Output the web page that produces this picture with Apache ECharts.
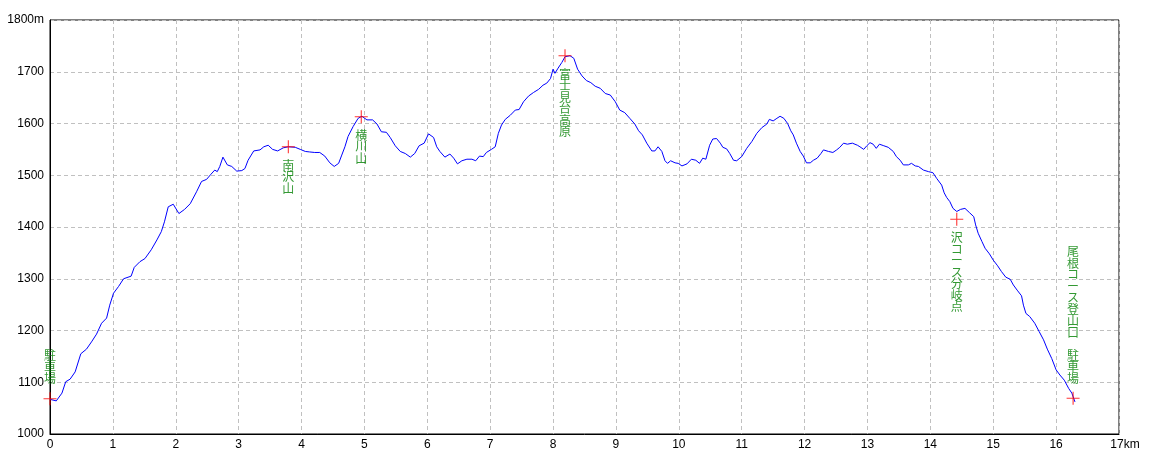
<!DOCTYPE html>
<html>
<head>
<meta charset="utf-8">
<script src="https://cdn.jsdelivr.net/npm/echarts@6/dist/echarts.min.js"></script>
<style>html,body{margin:0;padding:0;background:#fff;}#c{width:1160px;height:464px;}</style>
</head>
<body>
<div id="c"></div>
<script>
// Distance (km) along the route
const distKm = [0.00,0.10,0.19,0.25,0.32,0.40,0.49,0.58,0.66,0.74,0.82,0.90,0.95,1.01,1.09,1.17,1.29,1.34,1.43,1.51,1.61,1.70,1.77,1.82,1.88,1.96,2.05,2.14,2.23,2.33,2.41,2.49,2.56,2.62,2.66,2.70,2.75,2.82,2.89,2.97,3.05,3.10,3.15,3.24,3.34,3.40,3.47,3.54,3.62,3.71,3.79,3.90,3.98,4.06,4.13,4.21,4.29,4.37,4.45,4.52,4.59,4.64,4.69,4.74,4.82,4.90,4.96,5.04,5.13,5.20,5.27,5.35,5.41,5.49,5.57,5.65,5.73,5.80,5.87,5.95,6.02,6.10,6.15,6.20,6.28,6.36,6.42,6.48,6.55,6.63,6.71,6.77,6.83,6.89,6.94,7.02,7.08,7.13,7.18,7.24,7.32,7.40,7.46,7.53,7.61,7.69,7.77,7.84,7.90,7.96,8.00,8.03,8.08,8.14,8.19,8.27,8.33,8.39,8.46,8.53,8.60,8.67,8.75,8.83,8.91,8.99,9.06,9.14,9.22,9.30,9.36,9.42,9.49,9.57,9.62,9.67,9.73,9.78,9.82,9.87,9.94,9.99,10.05,10.13,10.20,10.27,10.33,10.38,10.43,10.49,10.54,10.60,10.66,10.70,10.76,10.81,10.87,10.92,11.00,11.08,11.16,11.24,11.32,11.40,11.44,11.50,11.56,11.61,11.67,11.73,11.78,11.82,11.87,11.93,11.98,12.03,12.09,12.14,12.20,12.26,12.30,12.38,12.45,12.51,12.56,12.62,12.68,12.76,12.84,12.88,12.94,12.99,13.04,13.09,13.14,13.19,13.26,13.33,13.41,13.46,13.52,13.57,13.65,13.70,13.76,13.81,13.89,13.97,14.04,14.10,14.18,14.22,14.26,14.31,14.36,14.42,14.48,14.55,14.62,14.69,14.72,14.76,14.82,14.87,14.94,15.00,15.07,15.13,15.20,15.27,15.32,15.38,15.45,15.48,15.52,15.58,15.66,15.73,15.80,15.86,15.93,16.00,16.06,16.13,16.20,16.25,16.30];
// Elevation (m)
const elevM = [1067,1064,1079,1101,1106,1120,1155,1164,1178,1193,1214,1224,1249,1272,1285,1300,1305,1322,1333,1339,1356,1375,1391,1410,1439,1444,1426,1434,1445,1468,1488,1492,1502,1510,1507,1517,1535,1520,1517,1508,1509,1513,1529,1547,1549,1555,1558,1550,1547,1553,1555,1554,1550,1546,1545,1544,1544,1537,1524,1517,1523,1539,1555,1575,1594,1610,1614,1607,1607,1599,1584,1583,1573,1557,1546,1542,1535,1542,1557,1562,1580,1573,1555,1546,1535,1541,1533,1522,1528,1531,1531,1528,1537,1536,1544,1550,1555,1581,1597,1608,1616,1626,1627,1642,1653,1660,1666,1674,1678,1687,1705,1697,1707,1718,1729,1731,1726,1705,1692,1683,1679,1672,1668,1658,1655,1642,1626,1621,1610,1599,1586,1578,1562,1547,1547,1555,1546,1528,1523,1528,1524,1523,1518,1522,1531,1529,1523,1533,1531,1558,1570,1571,1562,1554,1551,1542,1529,1528,1536,1552,1565,1581,1592,1599,1608,1605,1610,1614,1610,1600,1586,1578,1562,1546,1537,1524,1524,1529,1533,1542,1549,1546,1544,1549,1554,1562,1560,1562,1558,1555,1550,1557,1563,1560,1552,1560,1557,1554,1546,1536,1529,1520,1520,1523,1518,1517,1510,1507,1505,1494,1481,1466,1457,1449,1436,1430,1434,1436,1428,1420,1404,1388,1372,1359,1348,1336,1325,1314,1303,1299,1288,1278,1267,1249,1233,1227,1214,1198,1182,1164,1146,1124,1114,1104,1088,1079,1062];
// Waypoints
const wpNames = ['駐車場','南沢山','横川山','富士見台高原','沢コース分岐点','尾根コース登山口 駐車場'];
const wpKm    = [0.0, 3.79, 4.95, 8.19, 14.42, 16.27];
const wpElev  = [1068, 1555, 1613, 1731, 1415, 1069];
// Axis ticks
const xTicks = [0,1,2,3,4,5,6,7,8,9,10,11,12,13,14,15,16,17];
const yTicks = [1000,1100,1200,1300,1400,1500,1600,1700,1800];

const profile = distKm.map((d, i) => [d, elevM[i]]);
const lastWp = wpNames.length - 1;
const wpData = wpNames.map((n, i) => ({
  name: n,
  value: [wpKm[i], wpElev[i]],
  label: (i === 0 || i === lastWp) ? {position: 'top', distance: 8} : {position: 'bottom', distance: 6}
}));

const tickFont = "'Liberation Sans Narrow','Liberation Sans',sans-serif";
const chart = echarts.init(document.getElementById('c'), null, {renderer: 'canvas'});
chart.setOption({
  animation: false,
  backgroundColor: '#fff',
  grid: {left: 50, right: 41, top: 20, bottom: 30, show: true, borderColor: '#000', borderWidth: 1, backgroundColor: 'transparent'},
  xAxis: {
    type: 'value', min: xTicks[0], max: xTicks[xTicks.length - 1], interval: 1,
    axisLine: {show: true, lineStyle: {color: '#000', width: 1}},
    axisTick: {show: false},
    axisLabel: {
      color: '#000', fontSize: 12, fontFamily: tickFont, margin: 5,
      formatter: v => v === xTicks[xTicks.length - 1] ? '{a|' + v + 'km}' : String(v),
      rich: {a: {color: '#000', fontSize: 12, fontFamily: tickFont, padding: [0, 0, 0, 12]}}
    },
    splitLine: {show: true, lineStyle: {color: '#c0c0c0', type: [4, 3], width: 1}}
  },
  yAxis: {
    type: 'value', min: yTicks[0], max: yTicks[yTicks.length - 1], interval: 100,
    axisLine: {show: true, lineStyle: {color: '#000', width: 1}},
    axisTick: {show: false},
    axisLabel: {
      color: '#000', fontSize: 12, fontFamily: tickFont, margin: 6,
      formatter: v => v === yTicks[yTicks.length - 1] ? v + 'm' : String(v)
    },
    splitLine: {show: true, lineStyle: {color: '#c0c0c0', type: [4, 3], width: 1}}
  },
  series: [
    {
      type: 'line', data: profile, showSymbol: false, symbol: 'none', smooth: false,
      lineStyle: {color: '#0000ff', width: 1}, z: 2
    },
    {
      type: 'scatter', data: wpData,
      symbol: 'path://M0,5.5H12V6.5H0Z M5.5,0H6.5V12H5.5Z', symbolSize: 13,
      itemStyle: {color: '#ff0000'}, z: 3,
      label: {
        show: true, color: '#008000', fontSize: 12, lineHeight: 11.5,
        fontFamily: "'Noto Sans CJK JP',sans-serif",
        formatter: p => p.name.split('').join('\n')
      }
    }
  ]
});
</script>
</body>
</html>
